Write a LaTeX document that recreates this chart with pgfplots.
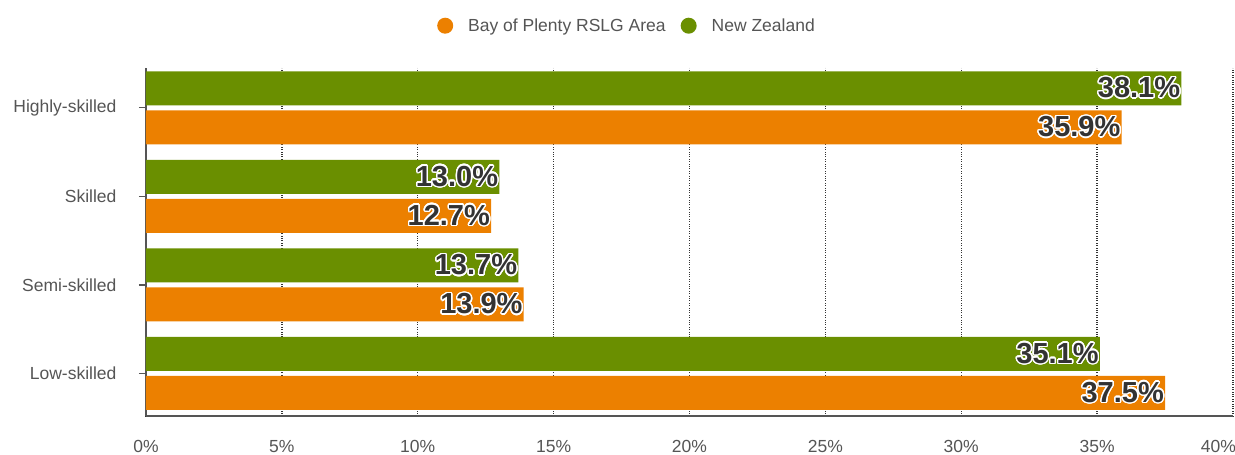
\documentclass[border=0pt]{standalone}
\usepackage{pgfplots}
\pgfplotsset{compat=1.18}
\usepackage{fontspec}
\setmainfont{Liberation Sans}
\usepackage{contour}
\contourlength{1.4pt}
\contournumber{24}
\definecolor{bop}{RGB}{236,128,0}
\definecolor{nz}{RGB}{106,143,0}
\definecolor{txt}{RGB}{51,51,51}
\definecolor{tick}{RGB}{85,85,85}
\begin{document}
\begin{tikzpicture}
\useasboundingbox (-146pt,-39pt) rectangle (1089pt,416pt);
\begin{axis}[
  scale only axis,
  width=1087pt, height=348pt,
  xbar, bar width=34pt,
  xmin=0, xmax=40, ymin=-0.48, ymax=3.45,
  xtick={0,5,...,40},
  xticklabels={0\%,5\%,10\%,15\%,20\%,25\%,30\%,35\%,\makebox[0pt][r]{40\%\hspace{-3pt}}},
  ytick={0,1,2,3},
  yticklabels={Low-skilled,Semi-skilled,Skilled,Highly-skilled},
  /pgf/number format/assume math mode=true,
  ticklabel style={font=\fontsize{17.5}{19}\selectfont, text=tick},
  xticklabel style={yshift=-14pt},
  yticklabel style={xshift=-19pt},
  xtick style={draw=none},
  ytick style={draw=tick, line width=1.2pt},
  major tick length=7pt,
  tick align=outside,
  xmajorgrids,
  grid style={dotted, line width=1.4pt, color=txt},
  axis x line*=bottom, axis y line*=left,
  x axis line style={draw=tick, line width=1.5pt, -},
  y axis line style={draw=tick, line width=2pt, -},
  legend style={draw=none, at={(0.4425,1)}, anchor=south, yshift=31pt,
    legend columns=2, font=\fontsize{17.5}{19}\selectfont, text=tick,
    /tikz/every odd column/.append style={column sep=13pt},
    /tikz/every even column/.append style={column sep=13pt}},
  legend image code/.code={\fill[#1,draw=none] (0pt,0pt) circle (8pt);},
  nodes near coords={\contour{white}{\pgfmathprintnumber[fixed,fixed zerofill,precision=1]{\pgfplotspointmeta}\%}},
  nodes near coords style={anchor=east, font=\bfseries\fontsize{29}{31}\selectfont, text=txt, inner xsep=1pt},
]
\addplot[fill=bop, draw=none, bar shift=-19.5pt] coordinates {(37.5,0) (13.9,1) (12.7,2) (35.9,3)};
\addlegendentry{Bay of Plenty RSLG Area}
\addplot[fill=nz, draw=none, bar shift=19.5pt] coordinates {(35.1,0) (13.7,1) (13.0,2) (38.1,3)};
\addlegendentry{New Zealand}
\end{axis}
\end{tikzpicture}
\end{document}
